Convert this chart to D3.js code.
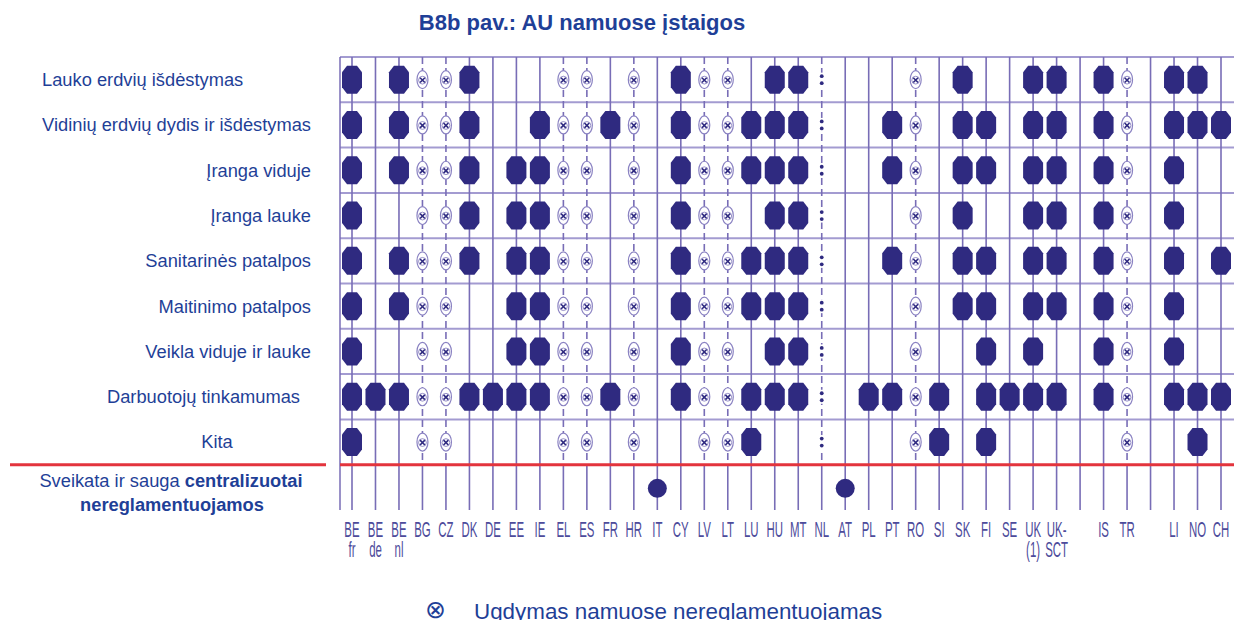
<!DOCTYPE html>
<html>
<head>
<meta charset="utf-8">
<script src="https://cdn.jsdelivr.net/npm/d3@7"></script>
<style>
  html, body { margin: 0; padding: 0; background: #fff; }
  svg { display: block; font-family: "Liberation Sans", Arial, sans-serif; }
</style>
</head>
<body>
<svg id="chart" width="1234" height="620"></svg>
<script>
/* --- Data --- */
const title = "B8b pav.: AU namuose įstaigos";

// columns of the grid, "" = empty spacer column
const countries = ["BE fr", "BE de", "BE nl", "BG", "CZ", "DK", "DE", "EE", "IE", "EL",
  "ES", "FR", "HR", "IT", "CY", "LV", "LT", "LU", "HU", "MT", "NL", "AT", "PL", "PT",
  "RO", "SI", "SK", "FI", "SE", "UK (1)", "UK-SCT", "", "IS", "TR", "", "LI", "NO", "CH"];

const rowLabels = ["Lauko erdvių išdėstymas", "Vidinių erdvių dydis ir išdėstymas",
  "Įranga viduje", "Įranga lauke", "Sanitarinės patalpos", "Maitinimo patalpos",
  "Veikla viduje ir lauke", "Darbuotojų tinkamumas", "Kita"];

// regulated (hexagon) per row
const laukoErdves = ["BE fr", "BE nl", "DK", "CY", "HU", "MT", "SK", "UK (1)", "UK-SCT", "IS", "LI", "NO"];
const vidinesErdves = ["BE fr", "BE nl", "DK", "IE", "FR", "CY", "LU", "HU", "MT", "PT", "SK", "FI", "UK (1)", "UK-SCT", "IS", "LI", "NO", "CH"];
const irangaViduje = ["BE fr", "BE nl", "DK", "EE", "IE", "CY", "LU", "HU", "MT", "PT", "SK", "FI", "UK (1)", "UK-SCT", "IS", "LI"];
const irangaLauke = ["BE fr", "DK", "EE", "IE", "CY", "HU", "MT", "SK", "UK (1)", "UK-SCT", "IS", "LI"];
const sanitarines = ["BE fr", "BE nl", "DK", "EE", "IE", "CY", "LU", "HU", "MT", "PT", "SK", "FI", "UK (1)", "UK-SCT", "IS", "LI", "CH"];
const maitinimo = ["BE fr", "BE nl", "EE", "IE", "CY", "LU", "HU", "MT", "SK", "FI", "UK (1)", "UK-SCT", "IS", "LI"];
const veikla = ["BE fr", "EE", "IE", "CY", "HU", "MT", "FI", "UK (1)", "IS", "LI"];
const darbuotojai = ["BE fr", "BE de", "BE nl", "DK", "DE", "EE", "IE", "FR", "CY", "LU", "HU", "MT", "PL", "PT", "SI", "FI", "SE", "UK (1)", "UK-SCT", "IS", "LI", "NO", "CH"];
const kita = ["BE fr", "LU", "SI", "FI", "NO"];
const regulatedRows = [laukoErdves, vidinesErdves, irangaViduje, irangaLauke, sanitarines, maitinimo, veikla, darbuotojai, kita];

// home-based provision not regulated (⊗) and no data (:)
const homeNotRegulated = ["BG", "CZ", "EL", "ES", "HR", "LV", "LT", "RO", "TR"];
const noData = ["NL"];

// health and safety not regulated centrally
const bottomLabel = ["Sveikata ir sauga ", "centralizuotai", "nereglamentuojamos"];
const notCentral = ["IT", "AT"];

const legendLabel = "Ugdymas namuose nereglamentuojamas";

/* --- Layout --- */
const COLORS = {
  hex: "#2f2a80",
  vline: "#786db6",
  hline: "#a39bd1",
  red: "#e3343d",
  label: "#1f3f97",
  country: "#4d4b9b",
  xmark: "#8a82c2"
};
const labelPos = [
  { x: 42, anchor: "start" }, { x: 311, anchor: "end" }, { x: 311, anchor: "end" },
  { x: 311, anchor: "end" }, { x: 311, anchor: "end" }, { x: 311, anchor: "end" },
  { x: 311, anchor: "end" }, { x: 300, anchor: "end" }, { x: 217, anchor: "middle" }
];

const svg = d3.select("#chart");
const gridLeft = 340, gridRight = 1234;

const x = d3.scalePoint().domain(d3.range(countries.length)).range([352, 1221]);
const y = d3.scaleBand().domain(d3.range(rowLabels.length + 1)).range([57, 510]);
const idx = code => countries.indexOf(code);
const cy = r => y(r) + y.bandwidth() / 2;
const redY = y(rowLabels.length);

// title
svg.append("text")
  .attr("x", 582).attr("y", 30)
  .attr("text-anchor", "middle")
  .attr("fill", COLORS.label)
  .style("font-size", "22px").style("font-weight", "bold")
  .text(title);

// horizontal grid lines
const grid = svg.append("g");
grid.selectAll("line.h")
  .data(d3.range(rowLabels.length))
  .join("line")
  .attr("class", "h")
  .attr("x1", gridLeft).attr("x2", gridRight)
  .attr("y1", d => y(d)).attr("y2", d => y(d))
  .attr("stroke", COLORS.hline).attr("stroke-width", 2);

// left border
grid.append("line")
  .attr("x1", gridLeft).attr("x2", gridLeft)
  .attr("y1", y(0)).attr("y2", y.range()[1])
  .attr("stroke", COLORS.vline).attr("stroke-width", 1.5);

// column lines (dashed where home-based provision is not regulated / no data)
const dashed = homeNotRegulated.concat(noData);
const cols = grid.selectAll("g.col")
  .data(d3.range(countries.length))
  .join("g").attr("class", "col");
cols.append("line")
  .attr("x1", d => x(d)).attr("x2", d => x(d))
  .attr("y1", y(0)).attr("y2", redY)
  .attr("stroke", COLORS.vline).attr("stroke-width", 1.6)
  .attr("stroke-dasharray", d => dashed.includes(countries[d]) ? "7,4" : null);
cols.append("line")
  .attr("x1", d => x(d)).attr("x2", d => x(d))
  .attr("y1", redY).attr("y2", y.range()[1])
  .attr("stroke", COLORS.vline).attr("stroke-width", 1.6);

// red separator
svg.append("line")
  .attr("x1", gridLeft).attr("x2", gridRight)
  .attr("y1", redY).attr("y2", redY)
  .attr("stroke", COLORS.red).attr("stroke-width", 3);
svg.append("line")
  .attr("x1", 10).attr("x2", 326)
  .attr("y1", redY).attr("y2", redY)
  .attr("stroke", COLORS.red).attr("stroke-width", 3);

// markers
const hw = 10, hh = 14, cx = 5, cyc = 6.5;
const hexPath = d3.line().curve(d3.curveLinearClosed)([
  [-hw + cx, -hh], [hw - cx, -hh], [hw, -hh + cyc], [hw, hh - cyc],
  [hw - cx, hh], [-hw + cx, hh], [-hw, hh - cyc], [-hw, -hh + cyc]
]);

const marks = svg.append("g");
regulatedRows.forEach((list, r) => {
  marks.selectAll(null)
    .data(list)
    .join("path")
    .attr("transform", d => `translate(${x(idx(d))},${cy(r)})`)
    .attr("d", hexPath)
    .attr("fill", COLORS.hex);

  const xm = marks.selectAll(null)
    .data(homeNotRegulated)
    .join("g")
    .attr("transform", d => `translate(${x(idx(d))},${cy(r)})`);
  xm.append("ellipse").attr("rx", 5.5).attr("ry", 9)
    .attr("fill", "#fff").attr("stroke", COLORS.xmark).attr("stroke-width", 1.2);
  xm.append("circle").attr("cy", 0.5).attr("r", 3.9)
    .attr("fill", "none").attr("stroke", COLORS.xmark).attr("stroke-width", 0.9);
  xm.append("path").attr("d", "M-2.4,-1.9L2.4,2.9M2.4,-1.9L-2.4,2.9")
    .attr("stroke", COLORS.hex).attr("stroke-width", 1.6);

  const nd = marks.selectAll(null)
    .data(noData)
    .join("g")
    .attr("transform", d => `translate(${x(idx(d))},${cy(r)})`);
  nd.append("rect").attr("x", -3).attr("y", -7).attr("width", 6).attr("height", 14).attr("fill", "#fff");
  nd.selectAll("circle").data([-3.5, 3.5]).join("circle")
    .attr("cy", d => d).attr("r", 1.9).attr("fill", COLORS.hex);
});

marks.selectAll("circle.nc")
  .data(notCentral)
  .join("circle")
  .attr("class", "nc")
  .attr("cx", d => x(idx(d)))
  .attr("cy", cy(rowLabels.length) + 1)
  .attr("r", 9.5)
  .attr("fill", COLORS.hex);

// row labels
svg.append("g").selectAll("text")
  .data(rowLabels)
  .join("text")
  .attr("x", (d, i) => labelPos[i].x)
  .attr("y", (d, i) => cy(i))
  .attr("dy", "0.35em")
  .attr("text-anchor", (d, i) => labelPos[i].anchor)
  .attr("fill", COLORS.label)
  .style("font-size", "18.3px")
  .text(d => d);

const bl = svg.append("text")
  .attr("x", 171).attr("y", 487)
  .attr("text-anchor", "middle")
  .attr("fill", COLORS.label)
  .style("font-size", "18.3px");
bl.append("tspan").text(bottomLabel[0]);
bl.append("tspan").style("font-weight", "bold").text(bottomLabel[1]);
svg.append("text")
  .attr("x", 172).attr("y", 511)
  .attr("text-anchor", "middle")
  .attr("fill", COLORS.label)
  .style("font-size", "18.3px").style("font-weight", "bold")
  .text(bottomLabel[2]);

// country labels (condensed)
const labelLines = code => code === "UK-SCT" ? ["UK-", "SCT"] : code.split(" ");
const cl = svg.append("g").selectAll("g")
  .data(d3.range(countries.length).filter(i => countries[i] !== ""))
  .join("g")
  .attr("transform", i => `translate(${x(i)},0)`);
cl.selectAll("text")
  .data(i => labelLines(countries[i]))
  .join("text")
  .attr("transform", (d, j) => `translate(0,${537 + j * 20}) scale(0.52,1)`)
  .attr("text-anchor", "middle")
  .attr("fill", COLORS.country)
  .style("font-size", "22px")
  .text(d => d);

// legend
svg.append("text")
  .attr("x", 435).attr("y", 618)
  .attr("text-anchor", "middle")
  .attr("fill", COLORS.label)
  .style("font-size", "25px")
  .text("⊗");
svg.append("text")
  .attr("x", 474).attr("y", 619)
  .attr("fill", COLORS.label)
  .style("font-size", "22.4px")
  .text(legendLabel);
</script>
</body>
</html>
